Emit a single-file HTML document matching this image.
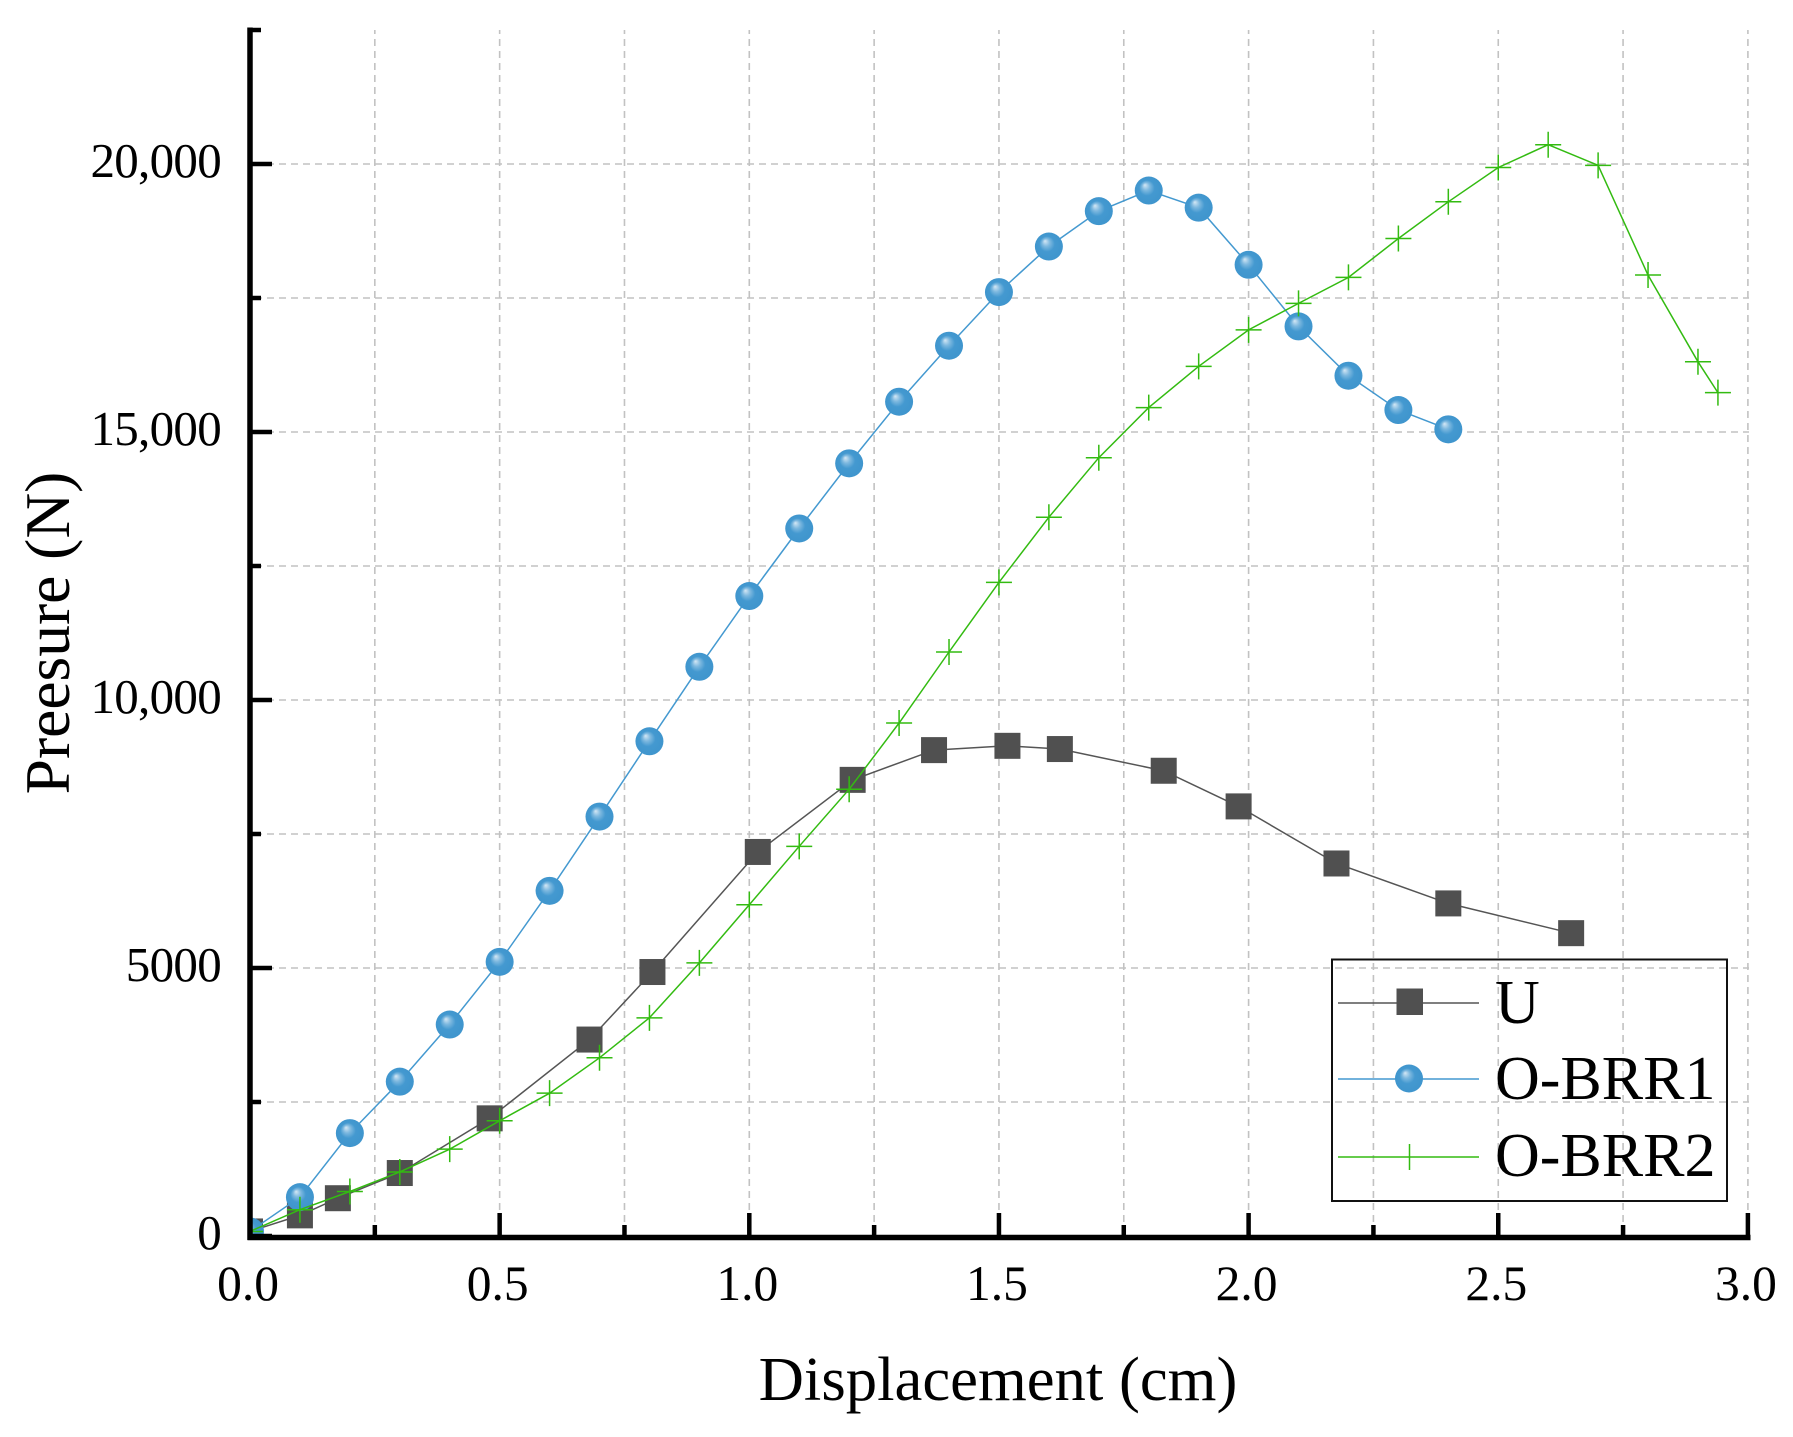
<!DOCTYPE html>
<html lang="en">
<head>
<meta charset="utf-8">
<title>Pressure vs Displacement</title>
<style>
html,body{margin:0;padding:0;background:#fff;}
svg{display:block;}
text{font-family:"Liberation Serif","Times New Roman",serif;fill:#000;}
</style>
</head>
<body>
<svg id="chart" xmlns="http://www.w3.org/2000/svg" width="1793" height="1437" viewBox="0 0 1793 1437">
  <defs>
    <radialGradient id="sphere" cx="0.5" cy="0.5" r="0.5" fx="0.36" fy="0.3">
      <stop offset="0" stop-color="#d5e8f5"/>
      <stop offset="0.28" stop-color="#7db8df"/>
      <stop offset="0.55" stop-color="#4499d0"/>
      <stop offset="1" stop-color="#3f95cd"/>
    </radialGradient>
    <clipPath id="plot-clip"><rect x="250" y="20" width="1510" height="1217"/></clipPath>
  </defs>
  <g id="grid"></g>
  <g id="series" clip-path="url(#plot-clip)"></g>
  <g id="axes"></g>
  <text x="998" y="1400" font-size="62.7" text-anchor="middle">Displacement (cm)</text>
  <text transform="translate(69 633) rotate(-90)" font-size="63.5" text-anchor="middle">Preesure (N)</text>
  <g>
    <rect x="1332" y="959.5" width="395" height="241.5" fill="none" stroke="#111" stroke-width="2"/>
    <g>
      <line x1="1338" x2="1479" y1="1003" y2="1003" stroke="#555" stroke-width="1.5"/>
      <rect x="1396.5" y="988.5" width="26.5" height="26.5" fill="#505050"/>
      <text x="1495" y="1023" font-size="62">U</text>
    </g>
    <g>
      <line x1="1338" x2="1479" y1="1079" y2="1079" stroke="#4499d0" stroke-width="1.5"/>
      <circle cx="1409" cy="1078.5" r="14" fill="url(#sphere)"/>
      <text x="1495" y="1099" font-size="62">O-BRR1</text>
    </g>
    <g>
      <line x1="1338" x2="1479" y1="1157" y2="1157" stroke="#33bb11" stroke-width="1.5"/>
      <line x1="1409.5" x2="1409.5" y1="1144" y2="1170" stroke="#33bb11" stroke-width="1.5"/>
      <text x="1495" y="1176" font-size="62">O-BRR2</text>
    </g>
  </g>
</svg>
<script>
const xTickValues = [0, 0.5, 1.0, 1.5, 2.0, 2.5, 3.0];
const xTickLabels = ["0.0", "0.5", "1.0", "1.5", "2.0", "2.5", "3.0"];
const xMinorValues = [0.25, 0.75, 1.25, 1.75, 2.25, 2.75];
const yTickValues = [0, 5000, 10000, 15000, 20000];
const yTickLabels = ["0", "5000", "10,000", "15,000", "20,000"];
const yMinorValues = [2500, 7500, 12500, 17500, 22500];

const uX = [0, 0.1, 0.176, 0.30, 0.48, 0.68, 0.806, 1.017, 1.207, 1.37, 1.517, 1.622, 1.83, 1.98, 2.176, 2.40, 2.646];
const uY = [85, 385, 705, 1175, 2195, 3665, 4925, 7165, 8510, 9065, 9145, 9085, 8680, 8015, 6950, 6205, 5650];

const brr1X = [0, 0.1, 0.2, 0.3, 0.4, 0.5, 0.6, 0.7, 0.8, 0.9, 1.0, 1.1, 1.2, 1.3, 1.4, 1.5, 1.6, 1.7, 1.8, 1.9, 2.0, 2.1, 2.2, 2.3, 2.4];
const brr1Y = [85, 725, 1920, 2880, 3945, 5115, 6440, 7825, 9230, 10620, 11940, 13200, 14415, 15565, 16610, 17610, 18460, 19120, 19505, 19185, 18120, 16970, 16050, 15410, 15050];

const brr2X = [0, 0.1, 0.2, 0.3, 0.4, 0.5, 0.6, 0.7, 0.8, 0.9, 1.0, 1.1, 1.2, 1.3, 1.4, 1.5, 1.6, 1.7, 1.8, 1.9, 2.0, 2.1, 2.2, 2.3, 2.4, 2.5, 2.6, 2.7, 2.8, 2.9, 2.94];
const brr2Y = [85, 490, 830, 1195, 1620, 2150, 2665, 3325, 4070, 5095, 6180, 7270, 8335, 9570, 10895, 12195, 13410, 14520, 15455, 16225, 16905, 17400, 17885, 18610, 19295, 19935, 20360, 19975, 17930, 16310, 15735];

const NS = "http://www.w3.org/2000/svg";
function sx(v){ return 250 + v * 499.3; }
function sy(v){ return 1236 - v * 268 / 5000; }
function mk(parent, tag, attrs){
  const el = document.createElementNS(NS, tag);
  for (const k in attrs) el.setAttribute(k, attrs[k]);
  parent.appendChild(el);
  return el;
}
const gridG = document.getElementById("grid");
const axesG = document.getElementById("axes");
const seriesG = document.getElementById("series");
const AXT = 30, AXR = 1749, GRID = "#c2c2c2";

xMinorValues.concat(xTickValues.slice(1)).forEach(function(v){
  const el = mk(gridG, "line", {x1:sx(v), x2:sx(v), y1:1234, y2:AXT, stroke:GRID, "stroke-width":1.6, "stroke-dasharray":"7 5"});
  
  
});
yMinorValues.concat(yTickValues.slice(1)).forEach(function(v){
  if (v > 22000) return;
  const el = mk(gridG, "line", {x1:255, x2:AXR, y1:sy(v), y2:sy(v), stroke:GRID, "stroke-width":1.6, "stroke-dasharray":"7 5"});
  
  
});

function drawLine(xs, ys, color, name){
  const pts = xs.map(function(v,i){ return sx(v).toFixed(1)+","+sy(ys[i]).toFixed(1); }).join(" ");
  const el = mk(seriesG, "polyline", {points:pts, fill:"none", stroke:color, "stroke-width":1.5});
  
  
}
drawLine(uX, uY, "#555555", "series-u-line");
uX.forEach(function(v,i){
  const el = mk(seriesG, "rect", {x:sx(v)-13, y:sy(uY[i])-13, width:26, height:26, fill:"#505050"});
  
  
});
drawLine(brr1X, brr1Y, "#4499d0", "series-o-brr1-line");
brr1X.forEach(function(v,i){
  const el = mk(seriesG, "circle", {cx:sx(v), cy:sy(brr1Y[i]), r:14, fill:"url(#sphere)"});
  
  
});
drawLine(brr2X, brr2Y, "#33bb11", "series-o-brr2-line");
brr2X.forEach(function(v,i){
  const cx = sx(v), cy = sy(brr2Y[i]);
  const el = mk(seriesG, "path", {d:"M"+(cx-13)+" "+cy+"H"+(cx+13)+"M"+cx+" "+(cy-13)+"V"+(cy+13), fill:"none", stroke:"#33bb11", "stroke-width":1.5});
  
  
});

const yAxisLine = mk(axesG, "line", {x1:250, x2:250, y1:27.5, y2:1240, stroke:"#000", "stroke-width":5.5});


const xAxisLine = mk(axesG, "line", {x1:247.5, x2:1750.5, y1:1237.5, y2:1237.5, stroke:"#000", "stroke-width":5.5});



xTickValues.forEach(function(v,i){
  const t = mk(axesG, "line", {x1:sx(v), x2:sx(v), y1:1237, y2:1213, stroke:"#000", "stroke-width":4.5});
  
  
  const l = mk(axesG, "text", {x:sx(v)-2, y:1300, "font-size":49.5, "text-anchor":"middle"});
  l.textContent = xTickLabels[i];
  
  
});
xMinorValues.forEach(function(v){
  const t = mk(axesG, "line", {x1:sx(v), x2:sx(v), y1:1237, y2:1225, stroke:"#000", "stroke-width":4.5});
  
  
});
yTickValues.forEach(function(v,i){
  const t = mk(axesG, "line", {x1:250, x2:272, y1:sy(v), y2:sy(v), stroke:"#000", "stroke-width":4.5});
  
  
  const l = mk(axesG, "text", {x:221, y:sy(v)+13, "font-size":49, "text-anchor":"end", "letter-spacing":"-0.7"});
  l.textContent = yTickLabels[i];
  
  
});
yMinorValues.forEach(function(v){
  const t = mk(axesG, "line", {x1:250, x2:261, y1:sy(v), y2:sy(v), stroke:"#000", "stroke-width":4.5});
  
  
});
</script>
</body>
</html>
